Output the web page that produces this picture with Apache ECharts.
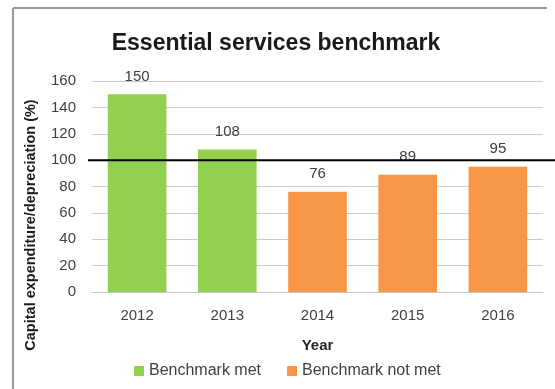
<!DOCTYPE html>
<html><head><meta charset="utf-8">
<script src="https://cdn.jsdelivr.net/npm/echarts@6/dist/echarts.min.js"></script>
<style>html,body{margin:0;padding:0;background:#fff}#c{width:555px;height:389px}</style>
</head><body><div id="c"></div>
<script>
var years = ['2012', '2013', '2014', '2015', '2016'];
var benchmarkMet = [150, 108, '-', '-', '-'];
var benchmarkNotMet = ['-', '-', 76, 89, 95];
var benchmarkValue = 100;
var yTicks = {min: 0, max: 160, interval: 20};
var yAxisTitle = 'Capital expenditure/depreciation (%)';

var chart = echarts.init(document.getElementById('c'), null, {renderer: 'canvas'});
var font = 'Liberation Sans';
var labelStyle = {show: true, position: 'top', color: '#404040', fontFamily: font, fontSize: 15, distance: 10};
chart.setOption({
  animation: false,
  title: {text: 'Essential services benchmark', left: 271, textAlign: 'center', top: 27,
    textStyle: {fontFamily: font, fontWeight: 'bold', fontSize: 23, color: '#1a1a1a'}},
  graphic: [
    {type: 'line', shape: {x1: 13, y1: 8, x2: 547, y2: 8}, style: {stroke: '#9a9a9a', lineWidth: 2}},
    {type: 'line', shape: {x1: 13, y1: 8, x2: 13, y2: 389}, style: {stroke: '#9a9a9a', lineWidth: 2}},
    {type: 'text', x: 31, y: 225, rotation: Math.PI / 2,
      style: {text: yAxisTitle, fontFamily: font, fontWeight: 'bold', fontSize: 14.5, fill: '#1a1a1a',
        textAlign: 'center', textVerticalAlign: 'middle'}}
  ],
  legend: {left: 129, top: 358, itemWidth: 10, itemHeight: 10, itemGap: 26, icon: 'rect',
    textStyle: {fontFamily: font, fontSize: 16, color: '#404040'},
    data: ['Benchmark met', 'Benchmark not met']},
  grid: [
    {left: 92, right: 12, top: 81, bottom: 97},
    {left: 88, right: 0, top: 81, bottom: 97}
  ],
  xAxis: [
    {type: 'category', data: years, gridIndex: 0,
      name: 'Year', nameLocation: 'middle', nameGap: 46,
      nameTextStyle: {fontFamily: font, fontWeight: 'bold', fontSize: 15, color: '#262626'},
      axisLine: {show: true, lineStyle: {color: '#c8c8c8'}}, axisTick: {show: false},
      axisLabel: {fontFamily: font, fontSize: 15, color: '#404040', margin: 16}},
    {type: 'value', gridIndex: 1, min: 0, max: 1, show: false}
  ],
  yAxis: [
    {type: 'value', gridIndex: 0, min: yTicks.min, max: yTicks.max, interval: yTicks.interval,
      axisLine: {show: false}, axisTick: {show: false},
      axisLabel: {fontFamily: font, fontSize: 15, color: '#404040', margin: 16},
      splitLine: {lineStyle: {color: '#cccccc'}}},
    {type: 'value', gridIndex: 1, min: yTicks.min, max: yTicks.max, show: false}
  ],
  series: [
    {name: 'Benchmark met', type: 'bar', stack: 's', barWidth: '65%', data: benchmarkMet,
      itemStyle: {color: '#92D050'}, label: labelStyle, xAxisIndex: 0, yAxisIndex: 0},
    {name: 'Benchmark not met', type: 'bar', stack: 's', barWidth: '65%', data: benchmarkNotMet,
      itemStyle: {color: '#F79646'}, label: labelStyle, xAxisIndex: 0, yAxisIndex: 0},
    {name: 'Benchmark', type: 'line', xAxisIndex: 1, yAxisIndex: 1, symbol: 'none', z: 10,
      data: [[0, benchmarkValue], [1, benchmarkValue]],
      lineStyle: {color: '#000', width: 2}}
  ]
});
</script></body></html>
